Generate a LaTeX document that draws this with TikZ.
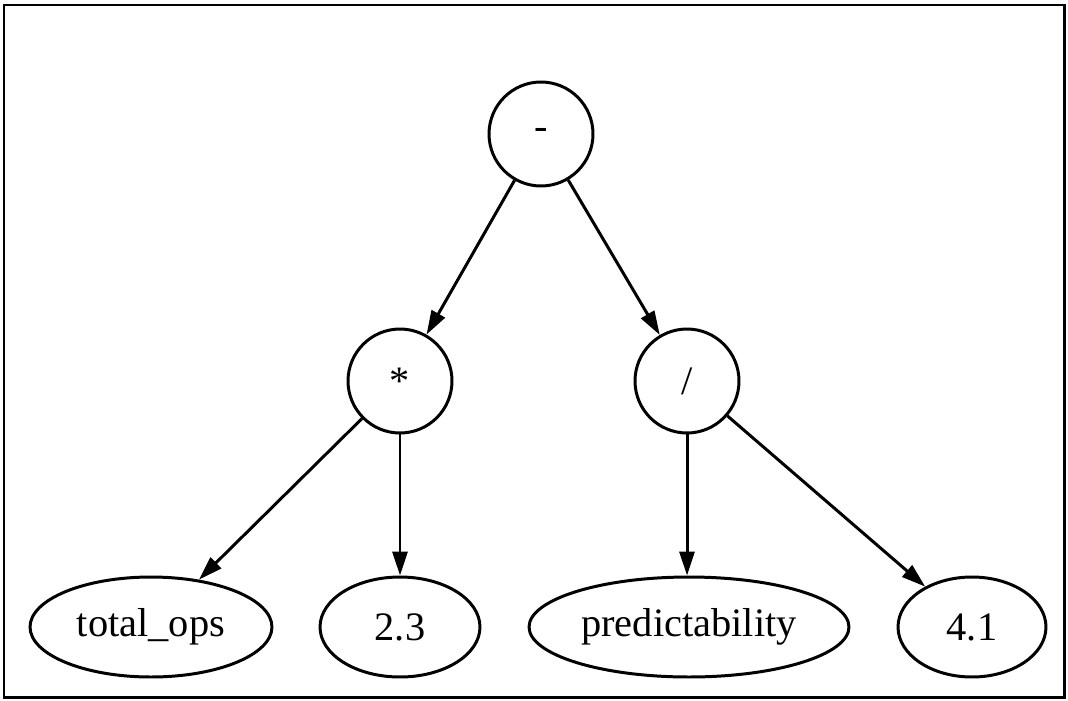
\documentclass[tikz,border=0pt]{standalone}
\usepackage{fontspec}
\setmainfont{Liberation Serif}
\usetikzlibrary{arrows.meta,shapes.geometric}
\begin{document}
\begin{tikzpicture}[x=0.02cm,y=-0.02cm,
    op/.style={draw,circle,line width=1.7pt,minimum size=2.08cm,inner sep=0pt,font=\fontsize{23}{27}\selectfont},
    leaf/.style={draw,ellipse,line width=1.7pt,minimum height=2cm,inner sep=0pt,font=\fontsize{23}{27}\selectfont},
    edge/.style={-{Triangle[length=0.48cm,width=0.3cm]},line width=1.7pt}]
    \useasboundingbox (0,0) rectangle (1068,700);
    % Khung
    \draw[line width=1.7pt] (4,5) rectangle (1064,697);

    % Các nút toán tử
    \node[op] (minus) at (541,134) {-};
    \node[op] (times) at (400,381) {*};
    \node[op] (divide) at (687,381) {/};

    % Các lá
    \node[leaf,minimum width=4.84cm] (ops) at (151,627) {total\_ops};
    \node[leaf,minimum width=3.2cm] (twothree) at (400,627) {2.3};
    \node[leaf,minimum width=6.4cm] (pred) at (689,627) {predictability};
    \node[leaf,minimum width=2.96cm] (fourone) at (972,627) {4.1};

    % Các cạnh
    \draw[edge] (minus) -- (times);
    \draw[edge] (minus) -- (divide);
    \draw[edge] (times) -- (ops);
    \draw[edge] (times) -- (twothree);
    \draw[edge] (divide.south) -- (divide.south |- pred.north);
    \draw[edge] (divide) -- (fourone);
\end{tikzpicture}
\end{document}
